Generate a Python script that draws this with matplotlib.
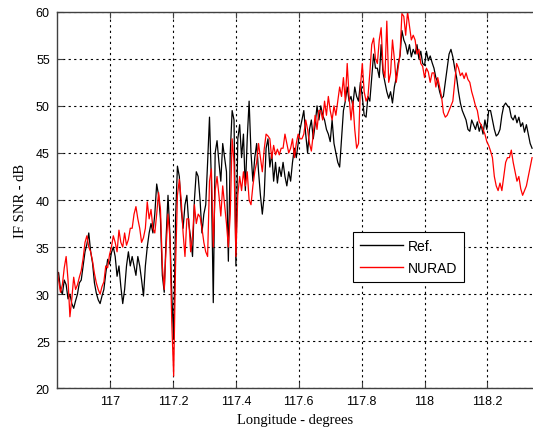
import numpy as np
import matplotlib
matplotlib.use("Agg")
import matplotlib.pyplot as plt
from matplotlib.ticker import FuncFormatter

# Longitude samples (degrees), evenly spaced
lon_start = 116.830
lon_step = 0.006

# IF SNR (dB) of the reference receiver
ref_snr = [
    31.8, 32.3, 30.5, 30.0, 31.5, 31.0, 29.5, 30.0, 29.0, 28.5,
    29.3, 30.0, 31.2, 31.5, 33.0, 34.5, 35.3, 36.5, 34.5, 33.3,
    31.2, 30.1, 29.4, 29.0, 29.8, 30.5, 32.2, 33.7, 33.2, 34.4,
    35.0, 34.0, 31.9, 33.0, 30.8, 29.0, 30.5, 33.0, 34.5, 33.0,
    34.0, 33.0, 32.0, 34.0, 33.0, 31.5, 29.8, 33.0, 35.0, 36.5,
    37.5, 36.5, 38.5, 41.7, 40.5, 38.0, 32.0, 30.2, 36.0, 40.5,
    36.5, 30.0, 25.2, 38.0, 43.6, 42.5, 39.0, 37.0, 39.5, 40.5,
    37.5, 36.0, 34.0, 40.0, 43.0, 42.5, 40.0, 36.5, 38.5, 39.5,
    44.0, 48.8, 42.0, 29.1, 45.0, 46.3, 44.0, 42.0, 46.0, 44.5,
    43.0, 33.5, 45.0, 49.5, 48.5, 33.0, 46.5, 48.0, 44.5, 47.0,
    41.0, 46.5, 50.5, 45.0, 42.0, 44.5, 46.0, 43.0, 40.5, 38.5,
    40.5, 45.5, 46.5, 43.5, 45.0, 42.0, 44.0, 41.8, 43.5, 42.5,
    44.0, 42.5, 41.5, 43.0, 42.0, 44.0, 45.5, 44.5, 46.0, 47.5,
    48.5, 49.5, 47.0, 45.0, 47.5, 48.5, 46.5, 48.0, 50.0, 48.5,
    50.0, 49.0, 48.5, 47.5, 47.0, 46.2, 48.5, 46.0, 45.0, 44.0,
    43.5, 46.5, 49.5, 50.5, 52.0, 50.5, 51.0, 50.0, 52.0, 51.0,
    50.5, 52.5, 51.0, 49.0, 48.8, 51.0, 50.5, 53.0, 55.5, 54.0,
    54.0, 53.0, 56.5, 53.5, 52.5, 51.5, 50.8, 51.5, 50.3, 52.0,
    53.0, 54.5, 55.3, 58.0, 57.0, 56.5, 55.5, 56.5, 55.2, 56.0,
    55.5, 56.5, 55.0, 55.8, 54.5, 54.3, 55.8, 54.8, 55.3, 54.6,
    54.0, 53.0, 52.5, 51.5, 50.8, 51.0, 52.5, 54.0, 55.5, 56.0,
    55.2, 54.0, 53.0, 51.5, 50.3, 49.5, 49.0, 48.5, 47.5, 47.3,
    48.5, 48.0, 47.5, 48.3, 47.3, 48.0, 47.0, 48.5, 47.5, 49.5,
    49.5, 48.5, 47.5, 46.8, 47.0, 47.5, 49.0, 50.0, 50.3, 50.0,
    49.8, 48.8, 48.5, 49.0, 48.2, 48.8, 47.8, 48.2, 47.2, 48.0,
    47.0, 46.0, 45.5,
]

# IF SNR (dB) of NURAD
nurad_snr = [
    33.2, 31.5, 30.2, 31.0, 32.8, 34.0, 31.5, 27.6, 29.5, 31.8,
    30.5, 31.0, 31.8, 32.5, 33.8, 35.5, 36.2, 35.0, 34.5, 33.5,
    32.2, 31.2, 30.5, 30.0, 30.8, 31.3, 33.0, 32.8, 34.2, 35.0,
    36.2, 35.5, 34.5, 36.8, 35.5, 35.0, 36.5, 35.2, 35.8, 37.0,
    37.0, 38.5, 39.3, 38.0, 37.0, 35.5, 36.0, 37.0, 39.8, 38.0,
    39.0, 37.0, 36.5, 38.5, 40.8, 39.0, 33.0, 30.5, 35.0, 38.5,
    36.0, 27.0, 21.3, 33.0, 40.5, 42.2, 40.0, 36.5, 34.0, 38.0,
    38.0, 34.5, 36.0, 39.5, 37.5, 38.5, 38.2, 37.0, 35.5, 34.5,
    34.0, 42.0, 43.3, 35.0, 41.0, 42.5, 40.5, 38.3, 41.5, 39.5,
    37.5, 35.0, 38.5, 46.5, 44.0, 34.0, 40.5, 42.5, 41.0, 43.0,
    41.5, 43.0, 40.0, 39.5, 41.5, 43.0, 44.0, 46.0, 44.5, 43.0,
    45.4, 47.0, 46.8, 46.5, 44.4, 45.8, 44.8, 45.4, 44.8, 45.5,
    45.5, 47.0, 46.0, 45.0, 45.5, 46.5, 44.5, 46.0, 47.0, 46.5,
    46.5, 47.0, 48.5, 47.5, 46.0, 45.2, 47.0, 49.0, 47.5, 49.5,
    49.5, 48.5, 50.5, 49.0, 51.0, 49.5, 48.5, 50.0, 49.0, 50.5,
    52.0, 51.0, 53.0, 50.5, 54.5, 51.0, 48.5, 50.5, 47.5, 45.5,
    46.0, 52.0, 54.5, 51.5, 50.5, 51.0, 53.5, 56.5, 57.2, 55.0,
    54.5, 57.0, 58.3, 54.0, 53.0, 59.0, 52.5, 53.5, 57.0, 55.0,
    52.5, 54.0, 55.5, 59.8, 59.5, 57.5, 60.0, 58.5, 57.0, 57.5,
    57.0, 55.5, 56.0, 54.5, 54.2, 53.0, 54.0, 53.6, 52.5, 53.5,
    53.5, 52.0, 53.0, 52.0, 51.0, 49.3, 48.8, 49.0, 49.5, 50.0,
    50.5, 52.5, 54.5, 54.0, 53.2, 53.5, 52.9, 53.5, 52.8, 52.5,
    51.5, 50.8, 50.0, 49.5, 48.3, 48.0, 47.5, 47.0, 46.2, 45.8,
    45.2, 44.5, 42.5, 41.5, 41.0, 41.8, 41.0, 42.5, 44.0, 44.5,
    44.5, 45.3, 44.0, 43.0, 42.0, 42.5, 41.2, 40.5, 41.0, 41.5,
    42.5, 43.5, 44.5,
]

x_ticks = [117.0, 117.2, 117.4, 117.6, 117.8, 118.0, 118.2]
y_ticks = [20, 25, 30, 35, 40, 45, 50, 55, 60]

lon = lon_start + lon_step * np.arange(len(ref_snr))

fig = plt.figure(figsize=(5.33, 4.35), dpi=100)
ax = fig.add_axes([0.1064, 0.105, 0.8936, 0.8658])

ax.plot(lon, ref_snr, color="black", lw=0.9, label="Ref.")
ax.plot(lon, nurad_snr, color="#ff0000", lw=0.9, label="NURAD")

ax.set_xlim(116.83, 118.345)
ax.set_ylim(20, 60)
ax.set_xticks(x_ticks)
ax.set_yticks(y_ticks)
ax.xaxis.set_major_formatter(FuncFormatter(lambda v, p: f"{v:g}"))

ax.grid(True, color="black", linestyle=(0, (2, 3)), linewidth=0.8)
ax.set_axisbelow(True)

for s in ["left", "bottom", "top"]:
    ax.spines[s].set_color("#404040")
    ax.spines[s].set_linewidth(1.0)
ax.spines["right"].set_visible(False)

ax.tick_params(direction="in", length=4, width=0.8, color="#404040",
               top=True, labelsize=9, pad=5)
for lab in ax.get_xticklabels() + ax.get_yticklabels():
    lab.set_family("Liberation Sans")

ax.set_xlabel("Longitude - degrees", family="Liberation Serif", fontsize=10.5, labelpad=4)
ax.set_ylabel("IF SNR - dB", family="Liberation Serif", fontsize=10.5, labelpad=6)

leg = ax.legend(loc="upper left", bbox_to_anchor=(0.6227, 0.415), borderaxespad=0,
                fancybox=False, framealpha=1, edgecolor="black",
                prop={"family": "Liberation Sans", "size": 10},
                handlelength=3.1, handletextpad=0.35, labelspacing=0.55, borderpad=0.5)
leg.get_frame().set_linewidth(0.8)
for line in leg.get_lines():
    line.set_linewidth(1.0)

fig.savefig("out.png", dpi=100)
